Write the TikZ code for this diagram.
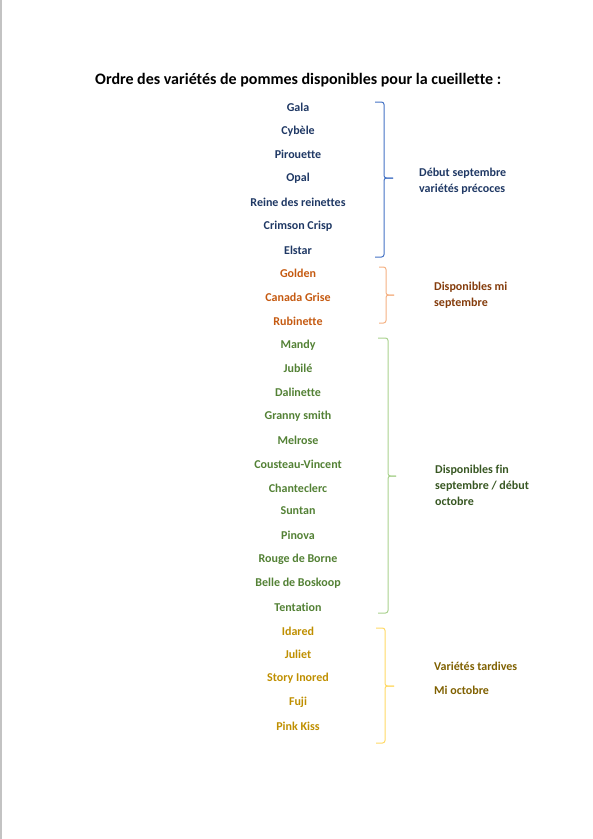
\documentclass[tikz,border=0pt]{standalone}
\usepackage{fontspec}
\setmainfont[Ligatures=NoCommon]{Carlito}
\usepackage{tikz}
\usetikzlibrary{positioning}
\definecolor{EarlyInk}{HTML}{1F3864}
\definecolor{EarlyBrace}{HTML}{4472C4}
\definecolor{MidInk}{HTML}{C55A11}
\definecolor{MidNote}{HTML}{843C0C}
\definecolor{MidBrace}{HTML}{F4B183}
\definecolor{LateInk}{HTML}{538135}
\definecolor{LateNote}{HTML}{385723}
\definecolor{LateBrace}{HTML}{A9D18E}
\definecolor{TardInk}{HTML}{BF8F00}
\definecolor{TardNote}{HTML}{7F6000}
\definecolor{TardBrace}{HTML}{FFD966}
\definecolor{PageEdge}{HTML}{C3C3C3}

\begin{document}
\begin{tikzpicture}[x=1pt,y=-1pt,font=\fontsize{12}{14}\selectfont\bfseries,
        apple/.style={inner sep=0pt,anchor=center},
        note/.style={inner sep=0pt,anchor=north west,align=left,
                     font=\fontsize{12}{16}\selectfont\bfseries},
        bracket/.style={line width=1pt,rounded corners=2.5pt}]
      \useasboundingbox (0,0) rectangle (593,839);
      \draw[PageEdge,line width=1.5pt] (1,0)--(1,839);
      \node[anchor=west,inner sep=0pt,font=\fontsize{16}{18}\selectfont\bfseries]
        (title) at (95,80) {Ordre des variétés de pommes disponibles pour la cueillette :};
      % early September
      \node[apple,text=EarlyInk] (gala) at (298,107) {Gala};
      \node[apple,text=EarlyInk] (cybele) at (298,131) {Cybèle};
      \node[apple,text=EarlyInk] (pirouette) at (298,154) {Pirouette};
      \node[apple,text=EarlyInk] (opal) at (298,178) {Opal};
      \node[apple,text=EarlyInk] (reine) at (298,202) {Reine des reinettes};
      \node[apple,text=EarlyInk] (crimson) at (298,226) {Crimson Crisp};
      \node[apple,text=EarlyInk] (elstar) at (298,250) {Elstar};
      \draw[bracket,EarlyBrace] (375,102)--(384,102)--(384,178)--(393,178);
      \draw[bracket,EarlyBrace] (375,257)--(384,257)--(384,178)--(393,178);
      \node[note,text=EarlyInk] (early) at (419,168) {Début septembre\\variétés précoces};
      % mid September
      \node[apple,text=MidInk] (golden) at (298,273) {Golden};
      \node[apple,text=MidInk] (canada) at (298,297) {Canada Grise};
      \node[apple,text=MidInk] (rubinette) at (298,321) {Rubinette};
      \draw[bracket,MidBrace] (379,267)--(386,267)--(386,295)--(394,295);
      \draw[bracket,MidBrace] (379,323)--(386,323)--(386,295)--(394,295);
      \node[note,text=MidNote] (mid) at (434,282) {Disponibles mi\\septembre};
      % end September
      \node[apple,text=LateInk] (mandy) at (298,345) {Mandy};
      \node[apple,text=LateInk] (jubile) at (298,368) {Jubilé};
      \node[apple,text=LateInk] (dalinette) at (298,392) {Dalinette};
      \node[apple,text=LateInk] (granny) at (298,416) {Granny smith};
      \node[apple,text=LateInk] (melrose) at (298,440) {Melrose};
      \node[apple,text=LateInk] (cousteau) at (298,464) {Cousteau-Vincent};
      \node[apple,text=LateInk] (chanteclerc) at (298,488) {Chanteclerc};
      \node[apple,text=LateInk] (suntan) at (298,511) {Suntan};
      \node[apple,text=LateInk] (pinova) at (298,535) {Pinova};
      \node[apple,text=LateInk] (rouge) at (298,559) {Rouge de Borne};
      \node[apple,text=LateInk] (belle) at (298,583) {Belle de Boskoop};
      \node[apple,text=LateInk] (tentation) at (298,607) {Tentation};
      \draw[bracket,LateBrace] (378,338)--(388,338)--(388,476)--(396,476);
      \draw[bracket,LateBrace] (378,613)--(388,613)--(388,476)--(396,476);
      \node[note,text=LateNote] (late) at (435,465) {Disponibles fin\\septembre / début\\octobre};
      % October
      \node[apple,text=TardInk] (idared) at (298,631) {Idared};
      \node[apple,text=TardInk] (juliet) at (298,654) {Juliet};
      \node[apple,text=TardInk] (story) at (298,678) {Story Inored};
      \node[apple,text=TardInk] (fuji) at (298,702) {Fuji};
      \node[apple,text=TardInk] (pinkkiss) at (298,726) {Pink Kiss};
      \draw[bracket,TardBrace] (376,628)--(385,628)--(385,686)--(394,686);
      \draw[bracket,TardBrace] (376,743)--(385,743)--(385,686)--(394,686);
      \node[note,anchor=west,text=TardNote] (tardive) at (434,666) {Variétés tardives};
      \node[note,anchor=west,text=TardNote] (octobre) at (434,690) {Mi octobre};
    \end{tikzpicture}
\end{document}
